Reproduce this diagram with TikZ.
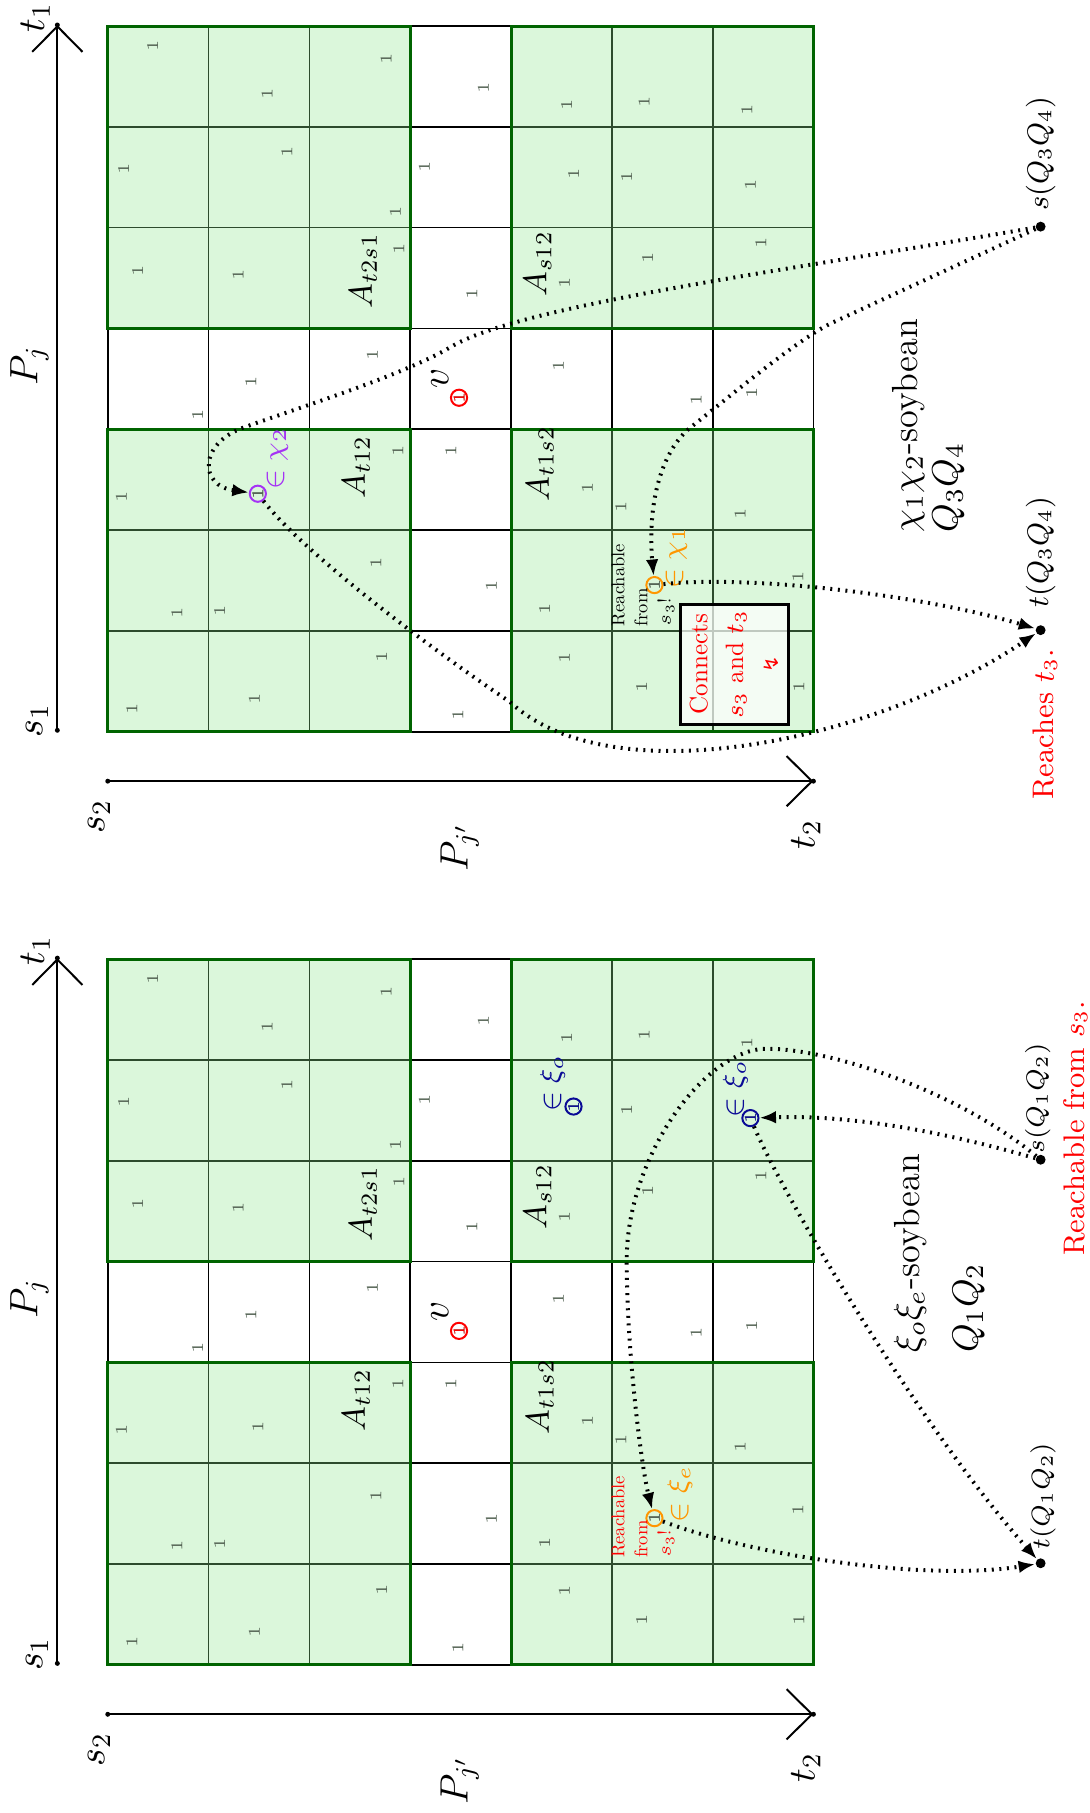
\RequirePackage{fix-cm}
\documentclass[tikz,border=0pt]{standalone}
\usepackage{fontspec}
\newfontfamily\djv{DejaVu Sans}
\newfontfamily\rmten{lmroman10-regular.otf}
\usetikzlibrary{arrows.meta}
\definecolor{gfill}{RGB}{219,247,219}
\definecolor{gbord}{RGB}{0,100,0}
\definecolor{gin}{RGB}{45,75,45}
\definecolor{wcol}{RGB}{85,100,85}
\definecolor{purp}{RGB}{165,50,245}
\definecolor{orng}{RGB}{255,150,0}
\definecolor{dblue}{RGB}{10,10,150}
\def\gL{93.2}
\def\gT{22.5}
\def\gc{87.2}
\def\wlist{132/40,231/81,334/51,418/76,490/91,557/88,646/95,%
107/146,248/131,342/183,367/144,496/150,542/153,649/160,%
119/234,206/238,345/215,408/254,488/245,560/223,658/210,%
171/359,217/330,322/307,397/344,483/316,602/346,650/340,%
105/430,223/427,344/390,390/390,508/422,537/438,640/444,%
153/530,190/528,325/487,425/507,471/527,566/506,690/499,%
114/613,220/604,330/568,396/618,488/569,555/594,691/594}
\newcommand{\drawpanel}{%
  \foreach \k in {0,...,7}{%
    \draw[bline] ({\gL+\k*\gc},\gT) -- ({\gL+\k*\gc},{\gT+7*\gc});
    \draw[bline] (\gL,{\gT+\k*\gc}) -- ({\gL+7*\gc},{\gT+\k*\gc});
  }
  \foreach \bx in {0,4}{\foreach \by in {0,4}{%
    \fill[gfill] ({\gL+\bx*\gc},{\gT+\by*\gc}) rectangle ++({3*\gc},{3*\gc});
    \foreach \k in {1,2}{%
      \draw[gline] ({\gL+(\bx+\k)*\gc},{\gT+\by*\gc}) -- ++(0,{3*\gc});
      \draw[gline] ({\gL+\bx*\gc},{\gT+(\by+\k)*\gc}) -- ++({3*\gc},0);
    }
  }}
  \foreach \bx in {0,4}{\foreach \by in {0,4}{%
    \draw[gb] ({\gL+\bx*\gc},{\gT+\by*\gc}) rectangle ++({3*\gc},{3*\gc});
  }}
  \foreach \x/\y [count=\i] in \wlist {\node[wt] (w\i) at (\x,\y) {1};}
  \node[alab] (At2s1) at (314,234) {$A_{t2s1}$};
  \node[alab] (As12) at (465,228) {$A_{s12}$};
  \node[alab] (At12) at (308,404) {$A_{t12}$};
  \node[alab] (At1s2) at (467,401) {$A_{t1s2}$};
  \node[biglab] (vl) at (380.3,327) {$v$};
  \node[circ,draw=red,text=red] (vc) at (397,344) {1};
  \node[sdot] (s1) at (49.6,631.6) {};
  \node[sdot] (t1) at (49.6,21.6) {};
  \draw[axis] (s1.center) -- (t1.center);
  \node[sdot] (s2) at (93.2,675.6) {};
  \node[sdot] (t2) at (703.5,675.6) {};
  \draw[axis] (s2.center) -- (t2.center);
  \node[axlab] (t1l) at (30.5,15) {$t_1$};
  \node[axlab] (s1l) at (32,623.5) {$s_1$};
  \node[axlab] (s2l) at (85.6,706) {$s_2$};
  \node[axlab] (t2l) at (697,722) {$t_2$};
  \node[biglab] (Pj) at (25.5,316.5) {$P_j$};
  \node[biglab] (Pjp) at (397.5,733) {$P_{j'}$};
}
\begin{document}
\begin{tikzpicture}[x=0.35pt,y=-0.35pt,
 every node/.style={rotate=90,inner sep=0pt},
 bline/.style={line width=0.5pt,draw=black},
 gline/.style={line width=0.5pt,draw=gin},
 gb/.style={line width=0.9pt,draw=gbord},
 wt/.style={font=\tiny,text=wcol},
 alab/.style={font=\fontsize{10}{12}\selectfont},
 biglab/.style={font=\fontsize{12}{14}\selectfont},
 axlab/.style={font=\fontsize{11.5}{14}\selectfont},
 memb/.style={font=\fontsize{8.5}{10}\selectfont},
 qlab/.style={font=\fontsize{9}{11}\selectfont},
 qlabs/.style={font=\fontsize{7.7}{9}\selectfont},
 note/.style={font=\fontsize{9}{11}\selectfont,text=red},
 soy/.style={font=\fontsize{11}{13}\selectfont,anchor=base west},
 reach/.style={font=\rmten\fontsize{5.6}{7}\selectfont,align=left,anchor=west},
 circ/.style={circle,draw,line width=0.6pt,minimum size=4.9pt,font=\tiny},
 sdot/.style={circle,fill=black,minimum size=1.5pt},
 qdot/.style={circle,fill=black,minimum size=3pt},
 axis/.style={line width=0.6pt,-{Straight Barb[length=7.7pt,width=15.2pt]}},
 conn/.style={line width=1.2pt,dash pattern=on 0.6pt off 1.7pt,-{Latex[length=5pt,width=3.8pt]}},
 cbox/.style={draw=black,line width=0.9pt,fill=white,fill opacity=0.7,text opacity=1,text=red,align=center,font=\rmten\fontsize{7.6}{10.8}\selectfont,minimum width=36.3pt,minimum height=32.6pt}
]
\useasboundingbox (0,0) rectangle (942,1568);
\begin{scope}[name prefix=top-]
\drawpanel
\end{scope}
\begin{scope}[shift={(0,807)},name prefix=bot-]
\drawpanel
\end{scope}
% ---------- top panel annotations ----------
\node[circ,draw=purp,text=wcol] (pc) at (223,427) {1};
\node[memb,text=purp] (pcl) at (240,396.5) {$\in\chi_2$};
\node[circ,draw=orng,text=wcol] (ocT) at (566,506) {1};
\node[memb,text=orng] (ocTl) at (585,482) {$\in\chi_1$};
\node[reach] (rT) at (556,542) {Reachable\\from\\$s_3$!};
\node[cbox] (box) at (635,574.4) {Connects\\$s_3$ and $t_3$\\{\djv\fontsize{6}{8}\selectfont ↯}};
\node[soy] (soyT) at (793.5,461) {$\chi_1\chi_2$-soybean};
\node[soy] (qT) at (828,461) {$Q_3Q_4$};
\node[qdot] (sT) at (900,196) {};
\node[qdot] (tT) at (900,545) {};
\node[qlab] (sTl) at (900,133) {$s(Q_3Q_4)$};
\node[qlab] (tTl) at (900,477.5) {$t(Q_3Q_4)$};
\node[note] (nT) at (904,626.5) {Reaches $t_3$.};
\draw[conn] (sT) .. controls (680,234) and (450,264) .. (390,300)
  .. controls (350,324) and (260,352) .. (210,370)
  .. controls (172,384) and (172,420) .. (pc);
\draw[conn] (pc) .. controls (264,480) and (381,567) .. (441,607)
  .. controls (530,690) and (760,640) .. (tT);
\draw[conn] (sT) -- (720,279) .. controls (690,293) and (630,344) .. (598,369)
  .. controls (570,391) and (560,440) .. (ocT);
\draw[conn] (ocT) .. controls (650,497) and (800,515) .. (tT);
% ---------- bottom panel annotations ----------
\node[circ,draw=dblue,text=dblue] (b1) at (496,957) {1};
\node[memb,text=dblue] (b1l) at (478,937) {$\in\xi_o$};
\node[circ,draw=dblue,text=dblue] (b2) at (649,967) {1};
\node[memb,text=dblue] (b2l) at (636,941.5) {$\in\xi_o$};
\node[circ,draw=orng,text=wcol] (ocB) at (566,1313) {1};
\node[memb,text=orng] (ocBl) at (588,1292) {$\in\xi_e$};
\node[reach,text=red] (rB) at (556,1348) {Reachable\\from\\$s_3$!};
\node[soy] (soyB) at (795,1170.6) {$\xi_o\xi_e$-soybean};
\node[soy] (qB) at (845.5,1170.6) {$Q_1Q_2$};
\node[qdot] (sB) at (900,1003) {};
\node[qdot] (tB) at (900,1352) {};
\node[qlabs] (sBl) at (897.6,950) {$s(Q_1Q_2)$};
\node[qlabs] (tBl) at (902,1294) {$t(Q_1Q_2)$};
\node[note] (nB) at (930,976) {Reachable from $s_3$.};
\draw[conn] (sB) .. controls (820,980) and (740,964) .. (b2);
\draw[conn] (sB) .. controls (830,945) and (720,907) .. (663,907)
  .. controls (610,907) and (542,1000) .. (542,1090)
  .. controls (542,1170) and (555,1270) .. (ocB);
\draw[conn] (b2) .. controls (680,1040) and (800,1240) .. (tB);
\draw[conn] (ocB) .. controls (650,1345) and (800,1368) .. (tB);
\end{tikzpicture}
\end{document}
